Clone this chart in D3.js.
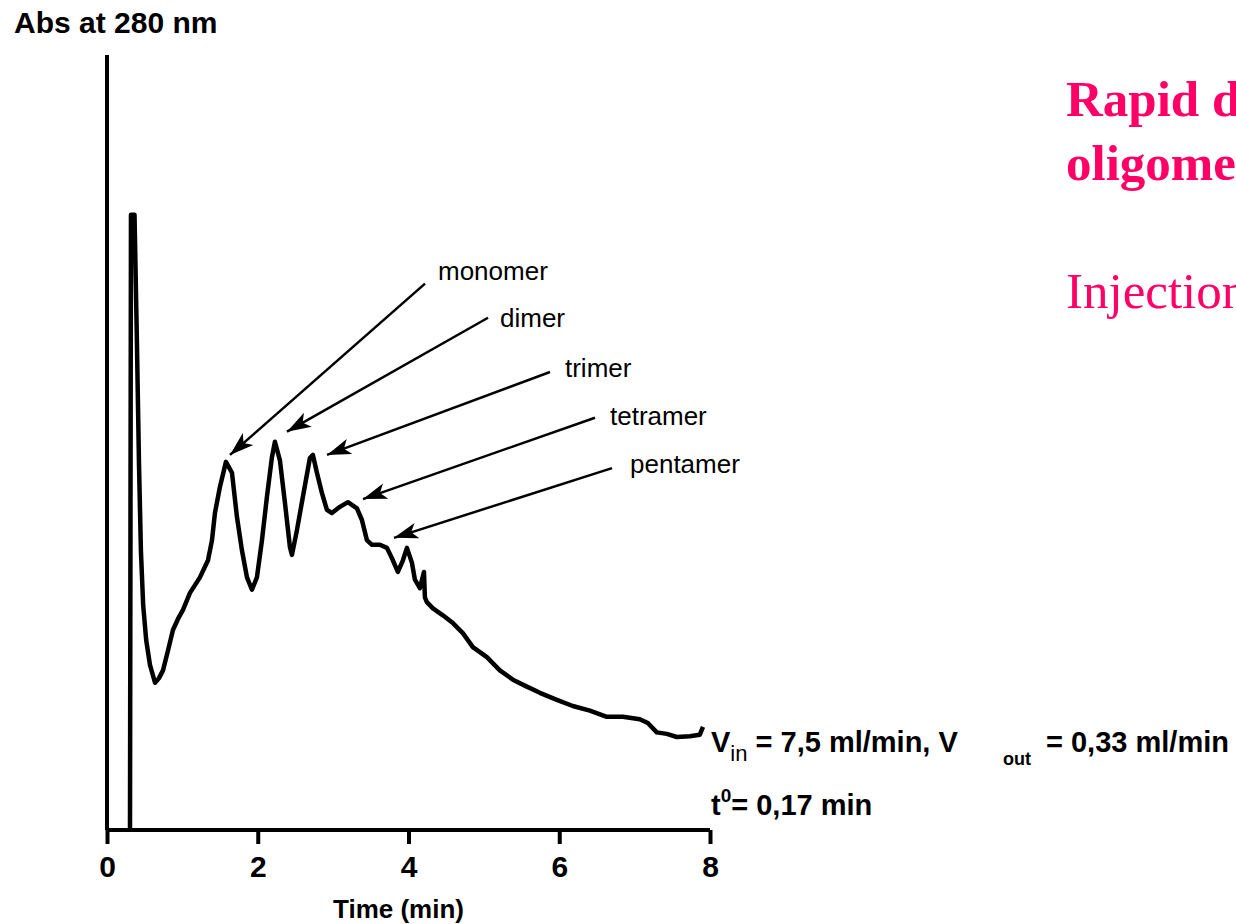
<!DOCTYPE html>
<html>
<head>
<meta charset="utf-8">
<script src="https://cdn.jsdelivr.net/npm/d3@7"></script>
<style>
  html, body { margin: 0; padding: 0; background: #fff; }
  svg { display: block; }
</style>
</head>
<body>
<div id="chart"></div>
<script>
// elution time (min) and absorbance (relative units, 0..1 = axis height)
const time = [0.305, 0.318, 0.365, 0.395, 0.425, 0.450, 0.480, 0.520, 0.570, 0.637,
  0.690, 0.743, 0.810, 0.875, 0.940, 1.008, 1.101, 1.233, 1.340, 1.393,
  1.432, 1.499, 1.578, 1.658, 1.724, 1.790, 1.857, 1.923, 1.989, 2.056,
  2.122, 2.188, 2.228, 2.294, 2.361, 2.427, 2.454, 2.520, 2.599, 2.692,
  2.732, 2.785, 2.851, 2.918, 2.984, 3.090, 3.196, 3.316, 3.382, 3.448,
  3.515, 3.621, 3.714, 3.793, 3.859, 3.926, 3.979, 4.045, 4.085, 4.151,
  4.205, 4.218, 4.244, 4.324, 4.456, 4.589, 4.721, 4.854, 5.040, 5.212,
  5.385, 5.570, 5.743, 5.968, 6.180, 6.406, 6.631, 6.844, 7.069, 7.175,
  7.294, 7.427, 7.560, 7.732, 7.865, 7.907]
const absorbance = [0.000, 0.794, 0.794, 0.640, 0.470, 0.360, 0.290, 0.245, 0.213, 0.190,
  0.196, 0.206, 0.232, 0.258, 0.272, 0.284, 0.306, 0.326, 0.348, 0.374,
  0.409, 0.443, 0.475, 0.461, 0.404, 0.361, 0.326, 0.310, 0.326, 0.374,
  0.430, 0.481, 0.501, 0.477, 0.422, 0.365, 0.355, 0.387, 0.430, 0.480,
  0.484, 0.461, 0.435, 0.413, 0.409, 0.417, 0.423, 0.415, 0.400, 0.374,
  0.368, 0.368, 0.364, 0.348, 0.333, 0.348, 0.364, 0.345, 0.323, 0.312,
  0.333, 0.300, 0.294, 0.286, 0.277, 0.267, 0.254, 0.236, 0.223, 0.206,
  0.194, 0.185, 0.177, 0.168, 0.160, 0.154, 0.146, 0.146, 0.143, 0.138,
  0.126, 0.124, 0.120, 0.121, 0.123, 0.133]

const xTicks = [0, 2, 4, 6, 8]

// peak labels, arrow tip on the trace, arrow tail, label anchor (data units)
const peakNames = ['monomer', 'dimer', 'trimer', 'tetramer', 'pentamer']
const tipTime = [1.632, 2.388, 2.919, 3.396, 3.808]
const tipAbs = [0.484, 0.514, 0.484, 0.427, 0.377]
const tailTime = [4.219, 5.055, 5.877, 6.474, 6.700]
const tailAbs = [0.705, 0.661, 0.591, 0.532, 0.467]
const labelTime = [4.391, 5.214, 6.076, 6.673, 6.939]
const labelAbs = [0.710, 0.649, 0.585, 0.523, 0.461]

const width = 1236
const height = 924
const pink = '#ff0066'
const sans = 'Arial, "Liberation Sans", sans-serif'
const serif = '"Times New Roman", "Liberation Serif", serif'

const x = d3.scaleLinear().domain([0, 8]).range([107, 710])
const y = d3.scaleLinear().domain([0, 1]).range([830, 55])

const svg = d3.select('#chart')
  .append('svg')
  .attr('width', width)
  .attr('height', height)
  .style('background', '#fff')

svg.append('defs').append('marker')
  .attr('id', 'arrow')
  .attr('markerUnits', 'userSpaceOnUse')
  .attr('markerWidth', 26)
  .attr('markerHeight', 20)
  .attr('viewBox', '0 -10 26 20')
  .attr('refX', 24)
  .attr('refY', 0)
  .attr('orient', 'auto')
  .append('path')
  .attr('d', 'M0,-8L24,0L0,8L6,0Z')
  .attr('fill', '#000')

// axes
svg.append('line')
  .attr('x1', x(0)).attr('x2', x(0))
  .attr('y1', y(1)).attr('y2', y(0))
  .attr('stroke', '#000').attr('stroke-width', 4)

const xAxis = svg.append('g')
  .attr('transform', `translate(0,${y(0)})`)
  .call(d3.axisBottom(x).tickValues(xTicks).tickSize(14).tickPadding(12).tickFormat(d3.format('d')))
xAxis.select('.domain').attr('stroke-width', 4).attr('d', `M${x(0)},0H${x(8)}`)
xAxis.selectAll('.tick line').attr('stroke-width', 4)
xAxis.selectAll('.tick text')
  .attr('font-family', sans)
  .attr('font-size', 30)
  .attr('font-weight', 'bold')
  .attr('fill', '#000')

svg.append('text')
  .attr('x', x(4) - 10)
  .attr('y', 918)
  .attr('text-anchor', 'middle')
  .attr('font-family', sans)
  .attr('font-size', 26)
  .attr('font-weight', 'bold')
  .text('Time (min)')

svg.append('text')
  .attr('x', 14)
  .attr('y', 33)
  .attr('font-family', sans)
  .attr('font-size', 30)
  .attr('font-weight', 'bold')
  .text('Abs at 280 nm')

// chromatogram trace
const points = time.map((t, i) => [t, absorbance[i]])
svg.append('path')
  .datum(points)
  .attr('fill', 'none')
  .attr('stroke', '#000')
  .attr('stroke-width', 4.5)
  .attr('stroke-linejoin', 'round')
  .attr('d', d3.line().x(d => x(d[0])).y(d => y(d[1])))

// peak annotations
const notes = svg.append('g')
peakNames.forEach((name, i) => {
  notes.append('line')
    .attr('x1', x(tailTime[i])).attr('y1', y(tailAbs[i]))
    .attr('x2', x(tipTime[i])).attr('y2', y(tipAbs[i]))
    .attr('stroke', '#000')
    .attr('stroke-width', 2.5)
    .attr('marker-end', 'url(#arrow)')
  notes.append('text')
    .attr('x', x(labelTime[i]))
    .attr('y', y(labelAbs[i]))
    .attr('font-family', sans)
    .attr('font-size', 26)
    .text(name)
})

// flow conditions
const flow = svg.append('text')
  .attr('x', 711)
  .attr('y', 752)
  .attr('font-family', sans)
  .attr('font-size', 29)
  .attr('font-weight', 'bold')
flow.append('tspan').text('V')
flow.append('tspan').attr('dy', 9).attr('font-size', 22).attr('font-weight', 'normal').text('in')
flow.append('tspan').attr('dy', -9).text(' = 7,5 ml/min, V')
flow.append('tspan').attr('x', 1003).attr('dy', 13).attr('font-size', 18).text('out')
flow.append('tspan').attr('x', 1046).attr('dy', -13).text('= 0,33 ml/min')

const t0 = svg.append('text')
  .attr('x', 711)
  .attr('y', 815)
  .attr('font-family', sans)
  .attr('font-size', 29)
  .attr('font-weight', 'bold')
t0.append('tspan').text('t')
t0.append('tspan').attr('dy', -13).attr('font-size', 19).text('0')
t0.append('tspan').attr('dy', 13).text('= 0,17 min')

// slide title, cut off at the right edge as in the original slide
const title = svg.append('g').attr('fill', pink).attr('font-family', serif)
title.append('text')
  .attr('x', 1066).attr('y', 116)
  .attr('font-size', 51).attr('font-weight', 'bold')
  .text('Rapid determination of')
title.append('text')
  .attr('x', 1066).attr('y', 180)
  .attr('font-size', 51).attr('font-weight', 'bold')
  .text('oligomers')
title.append('text')
  .attr('x', 1066).attr('y', 308)
  .attr('font-size', 51)
  .text('Injection')
</script>
</body>
</html>
